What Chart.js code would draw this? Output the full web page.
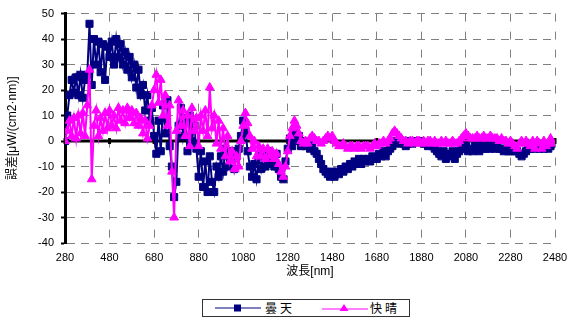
<!DOCTYPE html>
<html>
<head>
<meta charset="utf-8">
<script src="https://cdn.jsdelivr.net/npm/chart.js@4"></script>
<style>
  body { margin: 0; background: #fff; }
  #wrap { position: relative; width: 568px; height: 320px; }
  #legend {
    position: absolute; left: 202px; top: 299px; width: 206px; height: 16px;
    border: 1px solid #333; background: #fff;
    font-family: 'Noto Sans CJK JP', sans-serif; font-size: 12px; color: #000;
  }
  #legend .item { position: absolute; top: 0; height: 16px; line-height: 16px; }
  #legend svg { position: absolute; top: 2px; }
  #legend span { position: absolute; letter-spacing: 3px; white-space: nowrap; }
</style>
</head>
<body>
<div id="wrap">
  <canvas id="chart" width="568" height="320"></canvas>
  <div id="legend">
    <div class="item" style="left:12px">
      <svg width="46" height="12"><line x1="0" y1="6" x2="46" y2="6" stroke="#000080" stroke-width="1.2"/><rect x="19" y="2.5" width="7" height="7" fill="#000080"/></svg>
      <span style="left:50px">曇天</span>
    </div>
    <div class="item" style="left:119px">
      <svg width="46" height="12"><line x1="0" y1="7" x2="46" y2="7" stroke="#ff00ff" stroke-width="1.2"/><polygon points="22,2 26.5,9 17.5,9" fill="#ff00ff"/></svg>
      <span style="left:48px">快晴</span>
    </div>
  </div>
</div>
<script>
// wavelength [nm], every 10 nm
const wavelengths = [
  280, 290, 300, 310, 320, 330, 340, 350, 360, 370,
  380, 390, 400, 410, 420, 430, 440, 450, 460, 470,
  480, 490, 500, 510, 520, 530, 540, 550, 560, 570,
  580, 590, 600, 610, 620, 630, 640, 650, 660, 670,
  680, 690, 700, 710, 720, 730, 740, 750, 760, 770,
  780, 790, 800, 810, 820, 830, 840, 850, 860, 870,
  880, 890, 900, 910, 920, 930, 940, 950, 960, 970,
  980, 990, 1000, 1010, 1020, 1030, 1040, 1050, 1060, 1070,
  1080, 1090, 1100, 1110, 1120, 1130, 1140, 1150, 1160, 1170,
  1180, 1190, 1200, 1210, 1220, 1230, 1240, 1250, 1260, 1270,
  1280, 1290, 1300, 1310, 1320, 1330, 1340, 1350, 1360, 1370,
  1380, 1390, 1400, 1410, 1420, 1430, 1440, 1450, 1460, 1470,
  1480, 1490, 1500, 1510, 1520, 1530, 1540, 1550, 1560, 1570,
  1580, 1590, 1600, 1610, 1620, 1630, 1640, 1650, 1660, 1670,
  1680, 1690, 1700, 1710, 1720, 1730, 1740, 1750, 1760, 1770,
  1780, 1790, 1800, 1810, 1820, 1830, 1840, 1850, 1860, 1870,
  1880, 1890, 1900, 1910, 1920, 1930, 1940, 1950, 1960, 1970,
  1980, 1990, 2000, 2010, 2020, 2030, 2040, 2050, 2060, 2070,
  2080, 2090, 2100, 2110, 2120, 2130, 2140, 2150, 2160, 2170,
  2180, 2190, 2200, 2210, 2220, 2230, 2240, 2250, 2260, 2270,
  2280, 2290, 2300, 2310, 2320, 2330, 2340, 2350, 2360, 2370,
  2380, 2390, 2400, 2410, 2420, 2430, 2440, 2450, 2460, 2470
];

// 曇天 (cloudy)
const cloudy = [
  0, 10, 18, 24, 19, 25, 18, 26, 17, 24,
  26, 46, 22, 40, 30, 39, 27, 38, 24, 37,
  33, 39, 30, 40, 33, 38, 30, 35, 28, 33,
  25, 30, 21, 28, 18, 22, 12, 18, 8, 13,
  2, -5, 8, -4, 14, 3, 16, -2, -10, -22,
  -16, 6, 13, 2, 9, -4, 10, 0, 6, -3,
  -14, -4, -18, -8, -20, -6, -16, -20, -10, -14,
  -6, -12, -3, -10, -6, -4, -11, -6, -3, 2,
  8, 4, -4, -10, -14, -9, -15, -6, -11, -5,
  -10, -4, -9, -6, -10, -5, -11, -14, -15, -8,
  -3, 1, -2, 3, 0, 2, -2, 0, -2, -1,
  -3, -1, -4, -5, -7, -9, -11, -12, -13, -14,
  -12, -14, -12, -13, -11, -12, -10, -11, -9, -10,
  -8, -9, -7, -9, -7, -8, -7, -8, -6, -7,
  -7, -5, -6, -4, -6, -4, -3, -2, -1, 0,
  0, -1, -1, -2, -1, 0, -1, 0, 0, 0,
  0, -1, -1, -2, -1, -2, -3, -4, -5, -6,
  -4, -7, -5, -6, -4, -7, -5, -4, -3, -3,
  -2, -4, -3, -4, -2, -3, -4, -2, -3, -3,
  -2, -3, -2, -3, -2, -3, -3, -4, -3, -4,
  -4, -3, -4, -4, -5, -6, -5, -4, -3, -3,
  -2, -3, -2, -3, -2, -3, -2, -3, -2, -1
];

// 快晴 (clear sky)
const clear = [
  0, 4, 8, 2, 9, 1, 10, 3, 11, 2,
  14, 28, -15, 6, 12, 2, 9, 4, 11, 5,
  12, 6, 10, 5, 13, 8, 12, 7, 13, 9,
  12, 7, 11, 6, 9, 3, 8, 1, 6, 14,
  20, 26, 15, 24, 10, 18, 6, 14, -12, -30,
  4, 16, 6, 12, 2, 10, -2, 13, 4, 9,
  -2, 10, 4, 12, 2, 21, 5, 10, -1, 8,
  -3, 5, -6, 2, -8, -4, -11, -6, -10, 0,
  6, 11, 7, 2, -3, 0, -6, -2, -6, -3,
  -7, -3, -6, -4, -7, -5, -9, -12, -14, -10,
  -4, 2, 5, 8, 6, 3, 0, -1, 0, -1,
  1, 2, 1, 0, 0, -1, 0, 1, 2, 1,
  2, 0, -1, -2, -2, -1, -2, -3, -2, -2,
  -3, -2, -2, -3, -2, -2, -2, -3, -2, -1,
  -2, -1, -1, 0, -1, 0, 1, 3, 4, 3,
  2, 1, 0, 0, -1, 0, 0, -1, 0, 0,
  -1, 0, -1, 0, 0, -1, 0, -1, -1, 0,
  -1, 0, -1, -1, 0, -1, -1, 0, 1, 2,
  3, 2, 1, 1, 1, 2, 1, 1, 2, 1,
  1, 2, 1, 1, 1, 0, 1, 0, 0, -1,
  0, -1, -2, -3, -1, 0, -1, 0, -1, -2,
  0, -3, 0, -1, -3, 0, -2, -1, 1, -1
];

const xTicks = [280, 480, 680, 880, 1080, 1280, 1480, 1680, 1880, 2080, 2280, 2480];

const font = "'Liberation Sans', Arial, 'Noto Sans CJK JP', sans-serif";

// black axis line at y = 0 with small tick marks, drawn under the series
const zeroAxis = {
  id: 'zeroAxis',
  beforeDatasetsDraw(chart) {
    const { ctx, chartArea, scales } = chart;
    const y0 = scales.y.getPixelForValue(0);
    ctx.save();
    ctx.strokeStyle = '#000';
    ctx.lineWidth = 3;
    ctx.beginPath();
    ctx.moveTo(chartArea.left, y0);
    ctx.lineTo(chartArea.right, y0);
    ctx.stroke();
    xTicks.forEach(v => {
      const px = scales.x.getPixelForValue(v);
      ctx.beginPath();
      ctx.moveTo(px, y0 - 3);
      ctx.lineTo(px, y0 + 3);
      ctx.stroke();
    });
    ctx.restore();
  }
};

new Chart(document.getElementById('chart'), {
  type: 'line',
  data: {
    datasets: [{
      label: '曇天',
      data: wavelengths.map((w, i) => ({ x: w, y: cloudy[i] })),
      borderColor: '#000080',
      backgroundColor: '#000080',
      borderWidth: 2,
      pointStyle: 'rect',
      pointRadius: 5,
      pointBorderWidth: 1,
      order: 1
    }, {
      label: '快晴',
      data: wavelengths.map((w, i) => ({ x: w, y: clear[i] })),
      borderColor: '#ff00ff',
      backgroundColor: '#ff00ff',
      borderWidth: 2,
      pointStyle: 'triangle',
      pointRadius: 5,
      pointBorderWidth: 1,
      order: 0
    }]
  },
  options: {
    responsive: false,
    animation: false,
    layout: { padding: { left: 0, right: 13, top: 13, bottom: 0 } },
    plugins: {
      legend: { display: false },
      tooltip: { enabled: false }
    },
    scales: {
      x: {
        type: 'linear',
        min: 280,
        max: 2480,
        afterBuildTicks: scale => { scale.ticks = xTicks.map(v => ({ value: v })); },
        afterFit: scale => {
          scale.height = 77;
          scale.paddingLeft = 0;
          scale.paddingRight = 0;
        },
        grid: { color: '#808080', lineWidth: 1, drawTicks: false },
        border: { display: false, dash: [8, 10] },
        ticks: {
          padding: 8, color: '#000', maxRotation: 0,
          font: { family: font, size: 11 },
          callback: v => String(v)
        },
        title: {
          display: true,
          text: '波長[nm]',
          color: '#000',
          font: { family: font, size: 12 },
          padding: { top: 0, bottom: 41 }
        }
      },
      y: {
        min: -40,
        max: 50,
        afterFit: scale => { scale.width = 65; },
        grid: {
          color: ctx => ctx.tick && ctx.tick.value === 0 ? 'rgba(0,0,0,0)' : '#808080',
          lineWidth: 1,
          drawTicks: true,
          tickLength: 4,
          tickColor: '#000',
          tickWidth: 2
        },
        border: { display: true, color: '#000', width: 3, dash: [8, 6] },
        ticks: { stepSize: 10, padding: 7, color: '#000', font: { family: font, size: 11 } },
        title: {
          display: true,
          text: '誤差[μW/(cm2·nm)]',
          color: '#000',
          font: { family: font, size: 12 },
          padding: { top: 5, bottom: 0 }
        }
      }
    }
  },
  plugins: [zeroAxis]
});
</script>
</body>
</html>
